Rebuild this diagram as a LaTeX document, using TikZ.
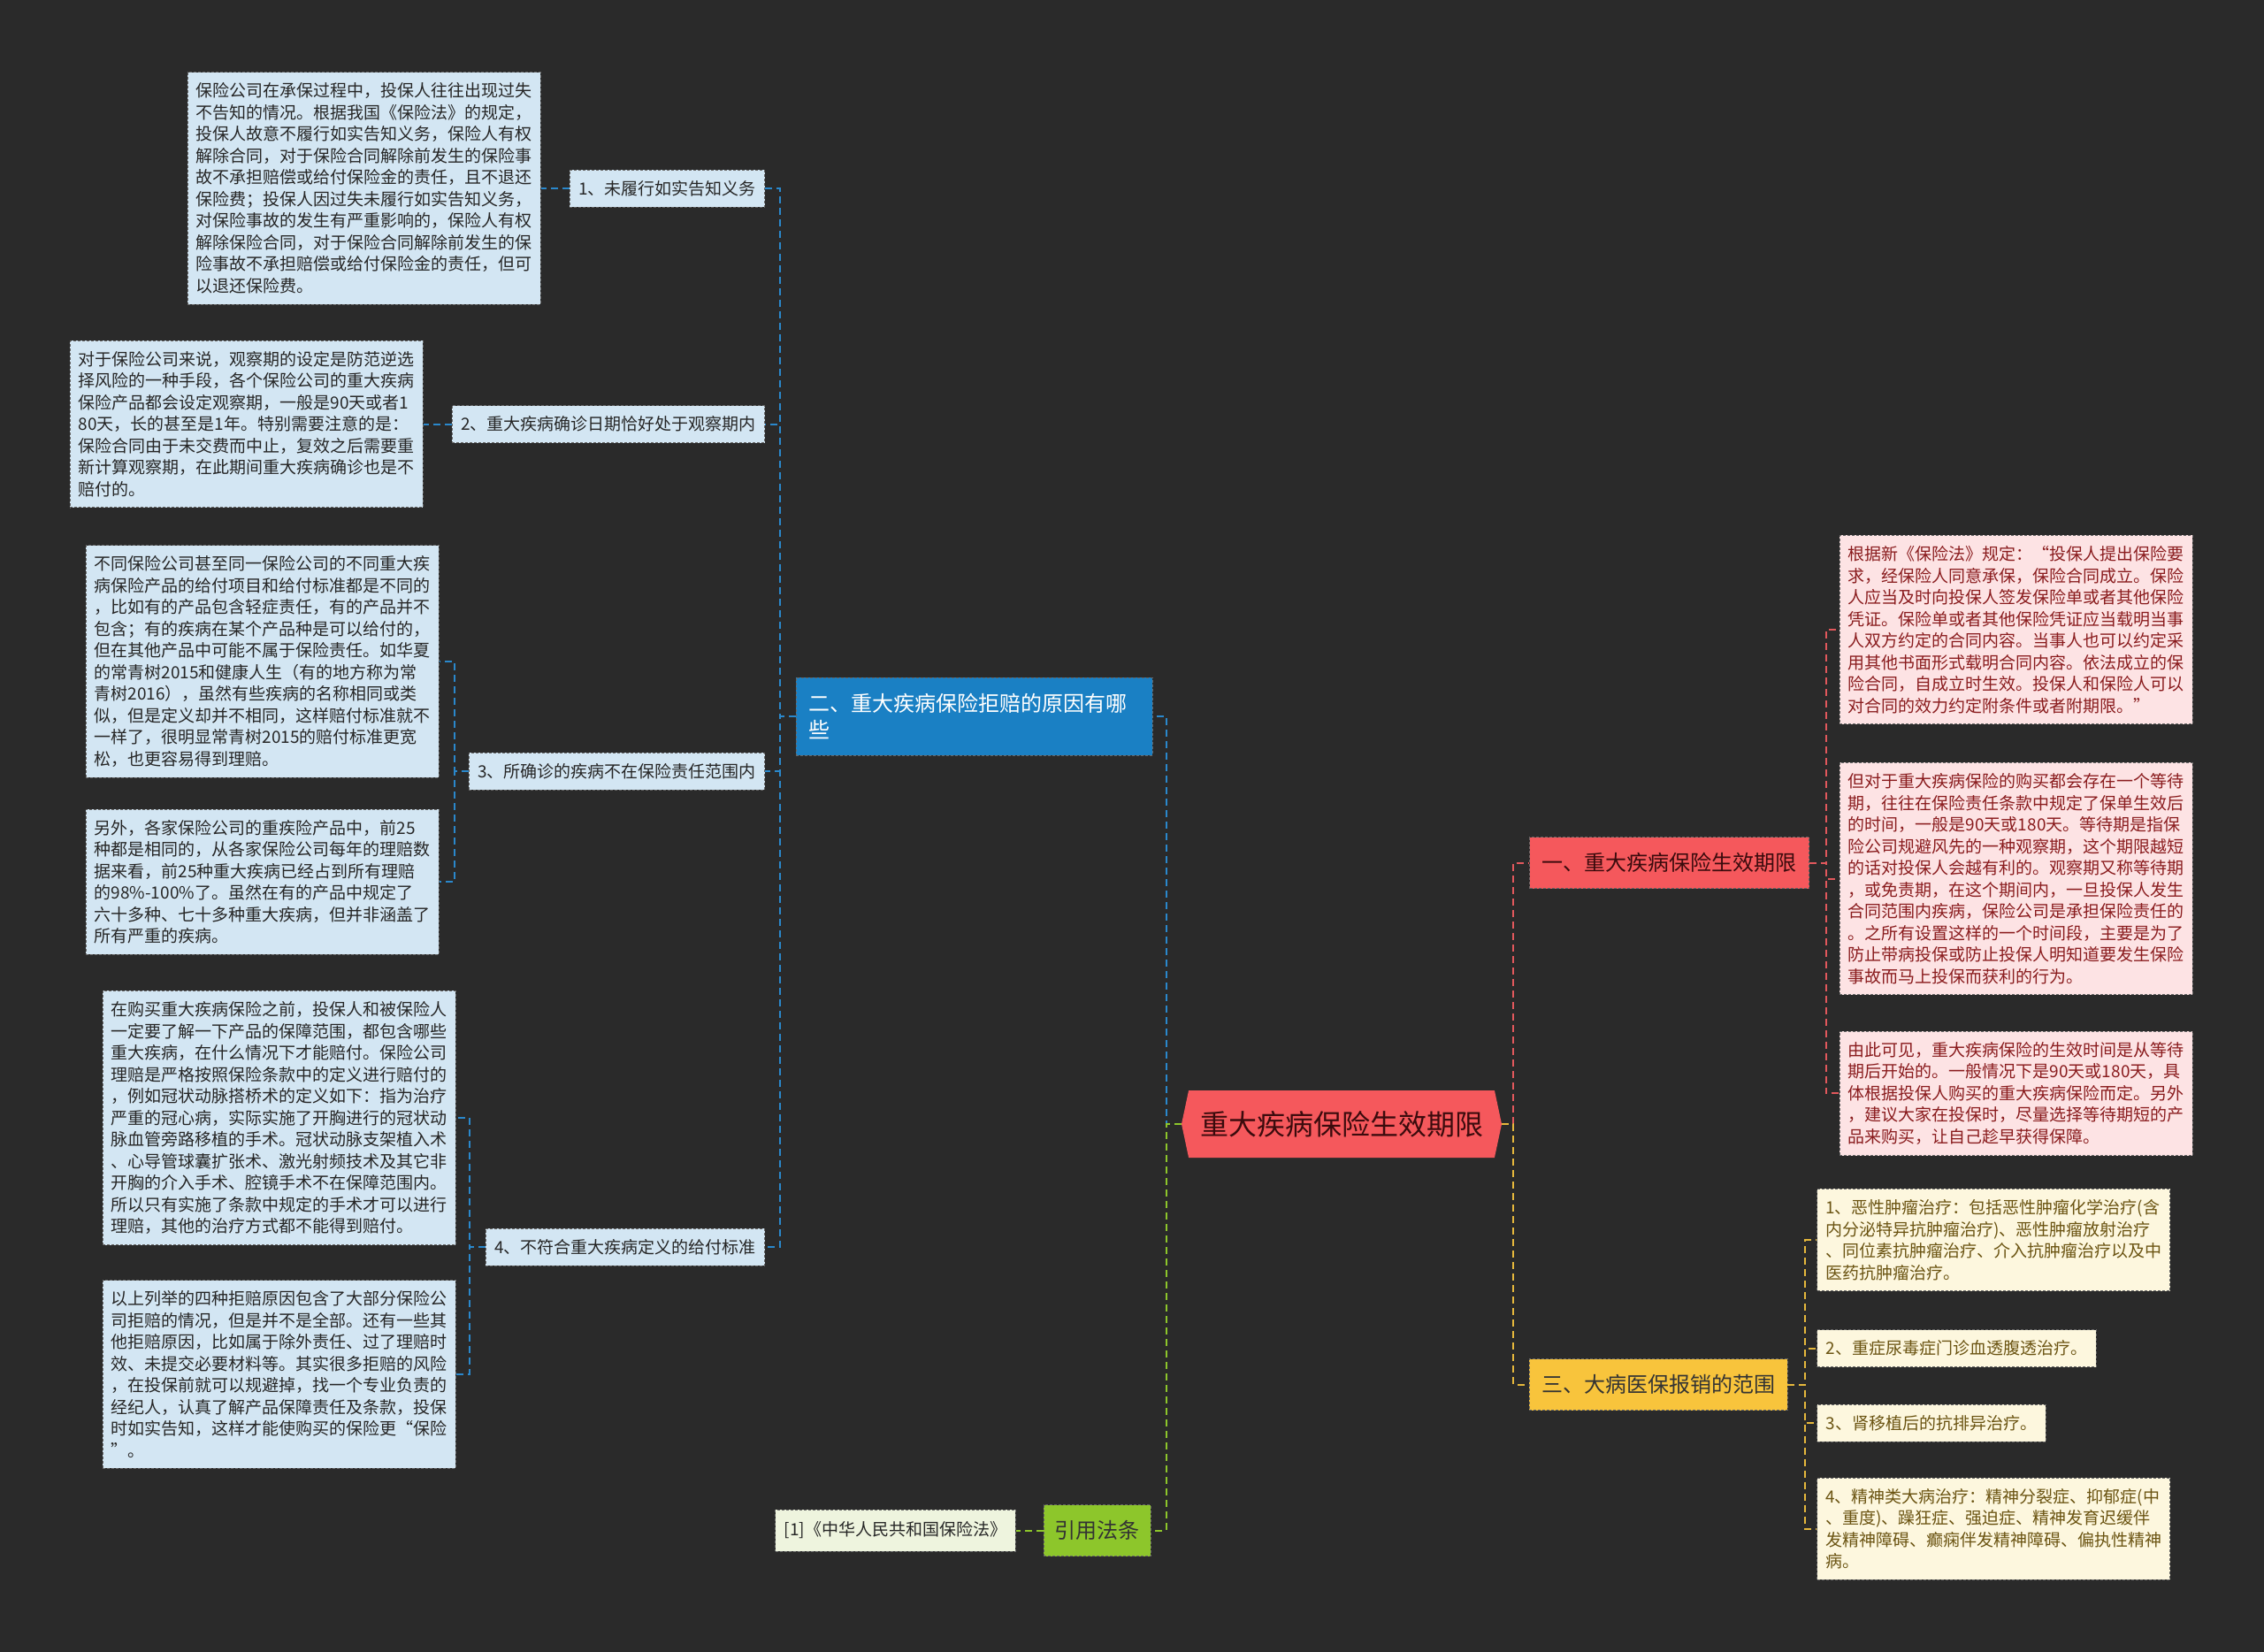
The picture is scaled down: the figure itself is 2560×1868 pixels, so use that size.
\documentclass[tikz,border=0pt]{standalone}
\usepackage{fontspec}
\setmainfont{Noto Sans CJK SC}
\usetikzlibrary{positioning,shapes.symbols}

\definecolor{canvas}{HTML}{2A2A2A}
\definecolor{hubred}{HTML}{F5585C}
\definecolor{hubtext}{HTML}{3B0B0D}
\definecolor{bluebox}{HTML}{1A80C4}
\definecolor{bluelt}{HTML}{D3E6F3}
\definecolor{blueline}{HTML}{2A88CC}
\definecolor{redlt}{HTML}{FDE3E4}
\definecolor{redtext}{HTML}{8A1C1E}
\definecolor{redline}{HTML}{E2585C}
\definecolor{yelbox}{HTML}{F8C43C}
\definecolor{yellt}{HTML}{FDF7DE}
\definecolor{yeltext}{HTML}{6B5412}
\definecolor{yelline}{HTML}{E6B83C}
\definecolor{grnbox}{HTML}{8DC62B}
\definecolor{grnlt}{HTML}{EEF4DE}

\begin{document}
\begin{tikzpicture}[x=1pt, y=-1pt,
    small/.style={font=\fontsize{19}{24.5}\selectfont},
    boxline/.style={draw=black!60, dash pattern=on 3pt off 2pt, line width=0.8pt},
    leaf/.style={boxline, small, rectangle, align=left, text width=380pt, inner xsep=9.5pt, inner ysep=12pt, text=black!85},
    kid/.style={boxline, small, rectangle, inner xsep=10pt, inner ysep=0pt, minimum height=42pt, text=black!85},
    branch/.style={boxline, rectangle, font=\fontsize{24}{30}\selectfont, inner xsep=14pt, inner ysep=0pt, minimum height=58pt},
    link/.style={dash pattern=on 8pt off 5pt, line width=2pt}]

  \useasboundingbox[fill=canvas] (0,0) rectangle (2560,1868);

  \node[shape=signal, signal to=west and east, signal pointer angle=156, fill=hubred, text=hubtext,
        font=\fontsize{32}{38}\selectfont, minimum width=362pt, minimum height=76pt] (hub) at (1517,1271) {重大疾病保险生效期限};

  \node[branch, fill=bluebox, text=white, align=left, text width=375pt, minimum height=88pt] (why) at (1101.5,810) {二、重大疾病保险拒赔的原因有哪\\些};
  \node[branch, fill=hubred, text=hubtext] (start) at (1887.5,975.5) {一、重大疾病保险生效期限};
  \node[branch, fill=yelbox, text=black!80] (scope) at (1875,1565.5) {三、大病医保报销的范围};
  \node[branch, fill=grnbox, text=black!80, inner xsep=12.5pt] (law) at (1240.5,1730.5) {引用法条};
  \node[kid, fill=grnlt, left=31pt of law, minimum height=47pt] (lawref) {[1]《中华人民共和国保险法》};

  \node[kid, fill=bluelt, anchor=east] (c1) at (865,213) {1、未履行如实告知义务};
  \node[kid, fill=bluelt, anchor=east] (c2) at (865,479.5) {2、重大疾病确诊日期恰好处于观察期内};
  \node[kid, fill=bluelt, anchor=east] (c3) at (865,872) {3、所确诊的疾病不在保险责任范围内};
  \node[kid, fill=bluelt, anchor=east] (c4) at (865,1410) {4、不符合重大疾病定义的给付标准};

  \node[leaf, fill=bluelt, left=32pt of c1] (l1) {保险公司在承保过程中，投保人往往出现过失\\
    不告知的情况。根据我国《保险法》的规定，\\
    投保人故意不履行如实告知义务，保险人有权\\
    解除合同，对于保险合同解除前发生的保险事\\
    故不承担赔偿或给付保险金的责任，且不退还\\
    保险费；投保人因过失未履行如实告知义务，\\
    对保险事故的发生有严重影响的，保险人有权\\
    解除保险合同，对于保险合同解除前发生的保\\
    险事故不承担赔偿或给付保险金的责任，但可\\
    以退还保险费。};
  \node[leaf, fill=bluelt, left=32pt of c2] (l2) {对于保险公司来说，观察期的设定是防范逆选\\
    择风险的一种手段，各个保险公司的重大疾病\\
    保险产品都会设定观察期，一般是90天或者1\\
    80天，长的甚至是1年。特别需要注意的是：\\
    保险合同由于未交费而中止，复效之后需要重\\
    新计算观察期，在此期间重大疾病确诊也是不\\
    赔付的。};
  \node[leaf, fill=bluelt, left=33pt of c3, yshift=124pt] (l3a) {不同保险公司甚至同一保险公司的不同重大疾\\
    病保险产品的给付项目和给付标准都是不同的\\
    ，比如有的产品包含轻症责任，有的产品并不\\
    包含；有的疾病在某个产品种是可以给付的，\\
    但在其他产品中可能不属于保险责任。如华夏\\
    的常青树2015和健康人生（有的地方称为常\\
    青树2016），虽然有些疾病的名称相同或类\\
    似，但是定义却并不相同，这样赔付标准就不\\
    一样了，很明显常青树2015的赔付标准更宽\\
    松，也更容易得到理赔。};
  \node[leaf, fill=bluelt, left=33pt of c3, yshift=-125pt] (l3b) {另外，各家保险公司的重疾险产品中，前25\\
    种都是相同的，从各家保险公司每年的理赔数\\
    据来看，前25种重大疾病已经占到所有理赔\\
    的98\%-100\%了。虽然在有的产品中规定了\\
    六十多种、七十多种重大疾病，但并非涵盖了\\
    所有严重的疾病。};
  \node[leaf, fill=bluelt, left=33pt of c4, yshift=146pt] (l4a) {在购买重大疾病保险之前，投保人和被保险人\\
    一定要了解一下产品的保障范围，都包含哪些\\
    重大疾病，在什么情况下才能赔付。保险公司\\
    理赔是严格按照保险条款中的定义进行赔付的\\
    ，例如冠状动脉搭桥术的定义如下：指为治疗\\
    严重的冠心病，实际实施了开胸进行的冠状动\\
    脉血管旁路移植的手术。冠状动脉支架植入术\\
    、心导管球囊扩张术、激光射频技术及其它非\\
    开胸的介入手术、腔镜手术不在保障范围内。\\
    所以只有实施了条款中规定的手术才可以进行\\
    理赔，其他的治疗方式都不能得到赔付。};
  \node[leaf, fill=bluelt, left=33pt of c4, yshift=-144pt] (l4b) {以上列举的四种拒赔原因包含了大部分保险公\\
    司拒赔的情况，但是并不是全部。还有一些其\\
    他拒赔原因，比如属于除外责任、过了理赔时\\
    效、未提交必要材料等。其实很多拒赔的风险\\
    ，在投保前就可以规避掉，找一个专业负责的\\
    经纪人，认真了解产品保障责任及条款，投保\\
    时如实告知，这样才能使购买的保险更“保险\\
    ”。};

  \node[leaf, fill=redlt, text=redtext, right=34pt of start, yshift=-18pt] (r2) {但对于重大疾病保险的购买都会存在一个等待\\
    期，往往在保险责任条款中规定了保单生效后\\
    的时间，一般是90天或180天。等待期是指保\\
    险公司规避风先的一种观察期，这个期限越短\\
    的话对投保人会越有利的。观察期又称等待期\\
    ，或免责期，在这个期间内，一旦投保人发生\\
    合同范围内疾病，保险公司是承担保险责任的\\
    。之所有设置这样的一个时间段，主要是为了\\
    防止带病投保或防止投保人明知道要发生保险\\
    事故而马上投保而获利的行为。};
  \node[leaf, fill=redlt, text=redtext, above=43pt of r2] (r1) {根据新《保险法》规定：“投保人提出保险要\\
    求，经保险人同意承保，保险合同成立。保险\\
    人应当及时向投保人签发保险单或者其他保险\\
    凭证。保险单或者其他保险凭证应当载明当事\\
    人双方约定的合同内容。当事人也可以约定采\\
    用其他书面形式载明合同内容。依法成立的保\\
    险合同，自成立时生效。投保人和保险人可以\\
    对合同的效力约定附条件或者附期限。”};
  \node[leaf, fill=redlt, text=redtext, below=41pt of r2] (r3) {由此可见，重大疾病保险的生效时间是从等待\\
    期后开始的。一般情况下是90天或180天，具\\
    体根据投保人购买的重大疾病保险而定。另外\\
    ，建议大家在投保时，尽量选择等待期短的产\\
    品来购买，让自己趁早获得保障。};

  \node[kid, fill=yellt, text=yeltext, right=33pt of scope, yshift=41pt] (y2) {2、重症尿毒症门诊血透腹透治疗。};
  \node[kid, fill=yellt, text=yeltext, below=42pt of y2.south west, anchor=north west] (y3) {3、肾移植后的抗排异治疗。};
  \node[leaf, fill=yellt, text=yeltext, above=43pt of y2.north west, anchor=south west] (y1) {1、恶性肿瘤治疗：包括恶性肿瘤化学治疗(含\\
    内分泌特异抗肿瘤治疗)、恶性肿瘤放射治疗\\
    、同位素抗肿瘤治疗、介入抗肿瘤治疗以及中\\
    医药抗肿瘤治疗。};
  \node[leaf, fill=yellt, text=yeltext, below=40pt of y3.south west, anchor=north west] (y4) {4、精神类大病治疗：精神分裂症、抑郁症(中\\
    、重度)、躁狂症、强迫症、精神发育迟缓伴\\
    发精神障碍、癫痫伴发精神障碍、偏执性精神\\
    病。};

  \coordinate[left=17pt of hub.west] (hl);
  \coordinate[right=13pt of hub.east] (hr);
  \coordinate[left=18pt of why.west] (wb);
  \coordinate[right=19pt of start.east] (sb);
  \coordinate[right=20pt of scope.east] (yb);
  \coordinate[left=16pt of c3.west] (k3);
  \coordinate[left=18pt of c4.west] (k4);

  \draw[link, blueline] (hub.west) -- (hl) |- (why.east);
  \draw[link, grnbox] (hub.west) -- (hl) |- (law.east);
  \draw[link, redline] (hub.east) -- (hr) |- (start.west);
  \draw[link, yelline] (hub.east) -- (hr) |- (scope.west);
  \draw[link, grnbox] (law.west) -- (lawref.east);

  \foreach \k in {c1,c2,c3,c4}
    \draw[link, blueline] (why.west) -- (wb) |- (\k.east);
  \draw[link, blueline] (c1.west) -- (l1.east);
  \draw[link, blueline] (c2.west) -- (l2.east);
  \foreach \k in {l3a,l3b}
    \draw[link, blueline] (c3.west) -- (k3) |- (\k.east);
  \foreach \k in {l4a,l4b}
    \draw[link, blueline] (c4.west) -- (k4) |- (\k.east);

  \foreach \k in {r1,r2,r3}
    \draw[link, redline] (start.east) -- (sb) |- (\k.west);
  \foreach \k in {y1,y2,y3,y4}
    \draw[link, yelline] (scope.east) -- (yb) |- (\k.west);
\end{tikzpicture}
\end{document}
